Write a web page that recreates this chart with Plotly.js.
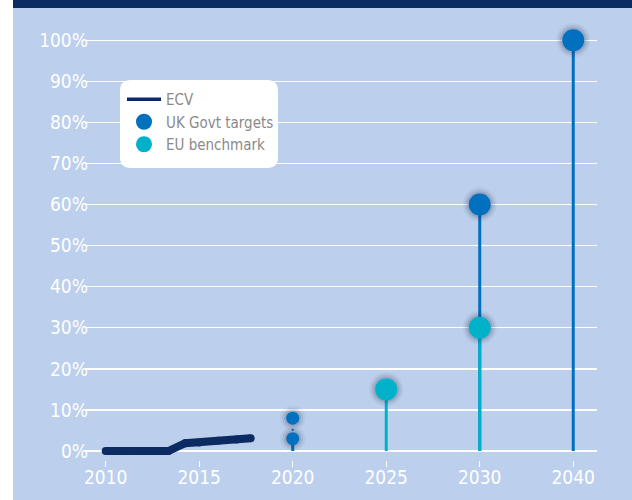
<!DOCTYPE html>
<html>
<head>
<meta charset="utf-8">
<script src="https://cdn.plot.ly/plotly-3.0.1.min.js"></script>
<style>
  html, body { margin: 0; padding: 0; background: #ffffff; }
  #chart { width: 632px; height: 500px; }
</style>
</head>
<body>
<div id="chart"></div>
<script>
// ECV share of new car sales (%)
var ecvYears = [2010, 2011, 2012, 2013, 2013.35, 2014.25, 2015, 2016, 2017, 2017.75];
var ecvValues = [0, 0, 0, 0, 0, 1.9, 2.1, 2.5, 2.8, 3.1];

// UK Govt targets (%)
var ukYears = [2020, 2020, 2030, 2040];
var ukValues = [3, 8, 60, 100];

// EU benchmark (%)
var euYears = [2025, 2030];
var euValues = [15, 30];

var tickYears = [2010, 2015, 2020, 2025, 2030, 2040];
var tickLabels = ['2010', '2015', '2020', '2025', '2030', '2040'];
var yTicks = [0, 10, 20, 30, 40, 50, 60, 70, 80, 90, 100];

// the axis squeezes 2030-2040 into the same width as a 5 year step
function pos(year) {
  return year <= 2030 ? year : 2030 + (year - 2030) / 2;
}

var navy = '#0c2b63';
var ukBlue = '#0070bf';
var euCyan = '#00b2c9';
var bgBlue = '#bccfec';
var font = 'Liberation Sans Narrow, DejaVu Sans Condensed, Roboto, sans-serif';

function markerSize(year) {
  return year === 2020 ? 13 : 22;
}

// stems: solid from 0, dotted between two targets in the same year
var ukStemX = [], ukStemY = [], ukDotX = [], ukDotY = [];
ukYears.forEach(function (yr, i) {
  if (i > 0 && ukYears[i - 1] === yr) {
    ukDotX.push(pos(yr), pos(yr), null);
    ukDotY.push(ukValues[i - 1], ukValues[i], null);
  } else {
    ukStemX.push(pos(yr), pos(yr), null);
    ukStemY.push(0, ukValues[i], null);
  }
});
var euStemX = [], euStemY = [];
euYears.forEach(function (yr, i) {
  euStemX.push(pos(yr), pos(yr), null);
  euStemY.push(0, euValues[i], null);
});

var ukX = ukYears.map(pos);
var euX = euYears.map(pos);
var ukSizes = ukYears.map(markerSize);
var euSizes = euYears.map(markerSize);

var allX = ukX.concat(euX);
var allY = ukValues.concat(euValues);
var allSizes = ukSizes.concat(euSizes);

// blurred-looking shadow: a few soft rings under each dot
function shadow(extra, alpha) {
  return {
    x: allX, y: allY, mode: 'markers',
    marker: { size: allSizes.map(function (s) { return s + extra; }),
              color: 'rgba(25,35,60,' + alpha + ')', opacity: 1, line: { width: 0 } },
    showlegend: false, hoverinfo: 'skip'
  };
}

var data = [
  { x: ukStemX, y: ukStemY, mode: 'lines', line: { color: ukBlue, width: 3 },
    showlegend: false, hoverinfo: 'skip' },
  { x: ukDotX, y: ukDotY, mode: 'lines', line: { color: ukBlue, width: 2, dash: '2px,6px' },
    showlegend: false, hoverinfo: 'skip' },
  { x: euStemX, y: euStemY, mode: 'lines', line: { color: euCyan, width: 3 },
    showlegend: false, hoverinfo: 'skip' },
  shadow(12, 0.05),
  shadow(8, 0.08),
  shadow(4, 0.12),
  { x: ecvYears, y: ecvValues, mode: 'lines+markers',
    line: { color: navy, width: 8 },
    marker: { color: navy, size: 8 },
    showlegend: false, hoverinfo: 'skip' },
  // legend entry for ECV with a thinner line
  { x: [null], y: [null], name: 'ECV', mode: 'lines',
    line: { color: navy, width: 3.5 } },
  { x: ukX, y: ukValues, name: 'UK Govt targets', mode: 'markers',
    marker: { color: ukBlue, size: ukSizes, opacity: 1, line: { width: 0 } } },
  { x: euX, y: euValues, name: 'EU benchmark', mode: 'markers',
    marker: { color: euCyan, size: euSizes, opacity: 1, line: { width: 0 } } }
];

// plot area: x 85..597, y 20..460
var L = 85, R = 597, T = 20, B = 460;
function px(x) { return (x - L) / (R - L); }
function py(y) { return (B - y) / (B - T); }

function roundRect(x0, y0, x1, y1, r) {
  var rx = r / (R - L), ry = r / (B - T);
  var a = px(x0), b = px(x1), top = py(y0), bot = py(y1);
  return 'M' + (a + rx) + ',' + top +
    ' L' + (b - rx) + ',' + top + ' Q' + b + ',' + top + ' ' + b + ',' + (top - ry) +
    ' L' + b + ',' + (bot + ry) + ' Q' + b + ',' + bot + ' ' + (b - rx) + ',' + bot +
    ' L' + (a + rx) + ',' + bot + ' Q' + a + ',' + bot + ' ' + a + ',' + (bot + ry) +
    ' L' + a + ',' + (top - ry) + ' Q' + a + ',' + top + ' ' + (a + rx) + ',' + top + ' Z';
}

var layout = {
  width: 632,
  height: 500,
  margin: { l: L, r: 632 - R, t: T, b: 500 - B },
  paper_bgcolor: '#ffffff',
  plot_bgcolor: 'rgba(0,0,0,0)',
  font: { family: font, color: '#ffffff', size: 18 },
  showlegend: true,
  hovermode: false,
  xaxis: {
    range: [2008.893, 2036.27],
    tickvals: tickYears.map(pos),
    ticktext: tickLabels,
    ticks: 'outside',
    ticklen: 6,
    tickwidth: 1,
    tickcolor: '#ffffff',
    ticklabelstandoff: -6,
    showgrid: false,
    zeroline: false,
    showline: false,
    tickfont: { family: font, color: '#ffffff', size: 19 },
    fixedrange: true
  },
  yaxis: {
    range: [-2.19, 104.94],
    tickvals: yTicks,
    ticktext: yTicks.map(function (v) { return v + '%'; }),
    showgrid: true,
    gridcolor: '#ffffff',
    gridwidth: 1.3,
    zeroline: false,
    showline: false,
    ticks: '',
    ticklabelstandoff: -4,
    tickfont: { family: font, color: '#ffffff', size: 19 },
    fixedrange: true
  },
  legend: {
    x: px(122),
    y: py(83),
    xanchor: 'left',
    yanchor: 'top',
    bgcolor: 'rgba(0,0,0,0)',
    borderwidth: 0,
    itemwidth: 34,
    font: { family: font, color: '#8a8a8a', size: 15 },
    tracegroupgap: 0
  },
  shapes: [
    // light blue panel
    { type: 'rect', xref: 'paper', yref: 'paper', layer: 'below',
      x0: px(13), x1: px(632), y0: py(500), y1: py(0),
      fillcolor: bgBlue, line: { width: 0 } },
    // navy band on top
    { type: 'rect', xref: 'paper', yref: 'paper', layer: 'below',
      x0: px(13), x1: px(632), y0: py(8), y1: py(0),
      fillcolor: navy, line: { width: 0 } },
    // legend box
    { type: 'path', xref: 'paper', yref: 'paper', layer: 'above',
      path: roundRect(120, 80, 278, 168, 11),
      fillcolor: '#ffffff', line: { width: 0 } }
  ]
};

Plotly.newPlot('chart', data, layout, { displayModeBar: false, staticPlot: true });
</script>
</body>
</html>
